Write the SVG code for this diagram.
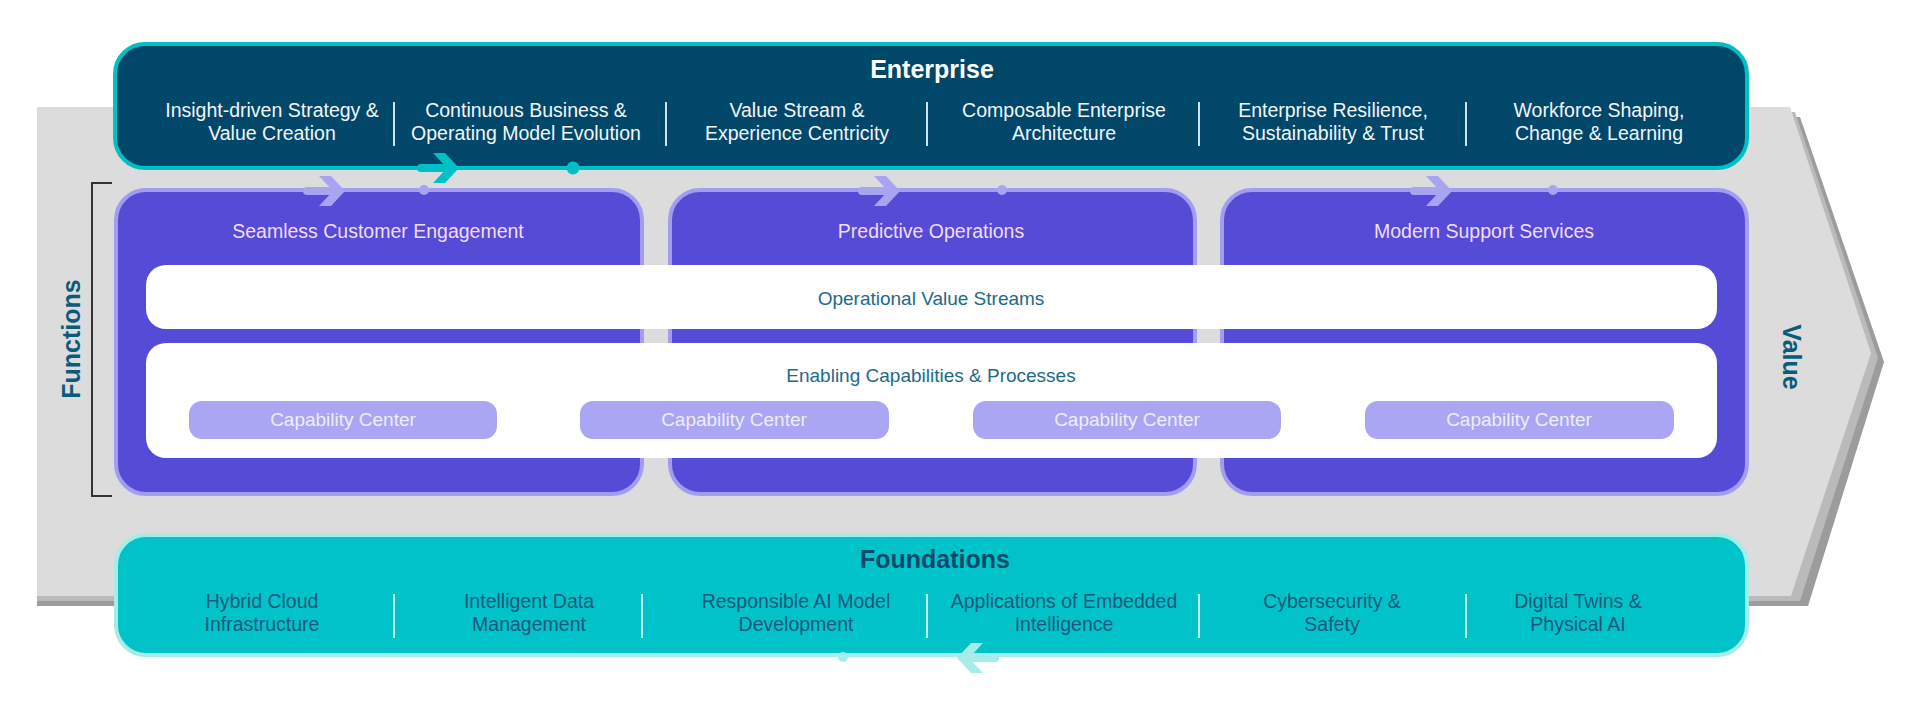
<svg xmlns="http://www.w3.org/2000/svg" xmlns:xlink="http://www.w3.org/1999/xlink" width="1920" height="717" viewBox="0 0 1920 717">
<style>
  text { font-family: "Liberation Sans", Arial, sans-serif; text-anchor: middle; }
  .etitle { font-size: 25px; font-weight: bold; fill: #ffffff; }
  .ftitle { font-size: 25px; font-weight: bold; fill: #0c4a6b; }
  .ecol { font-size: 19.5px; fill: #f2f6f8; }
  .fcol { font-size: 19.5px; fill: #17597c; }
  .esep { stroke: #cfe3ea; stroke-width: 2; }
  .fsep { stroke: #c8f2ef; stroke-width: 2; }
  .fbox { fill: #554bd6; stroke: #a39df2; stroke-width: 4; }
  .ftxt { font-size: 19.5px; fill: #f2dcff; }
  .band { fill: #ffffff; }
  .btxt { font-size: 19px; fill: #1d6a8c; }
  .pill { fill: #aaa6f3; }
  .ptxt { font-size: 19px; fill: #eeecff; }
  .side { font-size: 25px; font-weight: bold; fill: #0b5b7b; }
</style>
<defs>
  <g id="arrowR">
    <rect x="-42" y="-4" width="34" height="8" rx="4"/>
    <path d="M-26,-15 L-14,-15 L0,0 L-14,15 L-26,15 L-12,0 Z"/>
  </g>
</defs>

<g id="background">
  <polygon points="37,117 1800,117 1884,362 1808,606 37,606" fill="#9c9c9c"/>
  <polygon points="37,112 1795,112 1878,358 1800,601 37,601" fill="#bababa"/>
  <polygon points="37,107 1790,107 1871,353 1791,596 37,596" fill="#dcdcdc"/>
</g>

<g id="enterprise">
  <rect x="115" y="44" width="1632" height="124" rx="30" fill="#01476a" stroke="#00c0c6" stroke-width="4"/>
  <text class="etitle" x="932" y="78">Enterprise</text>
  <text class="ecol" x="272" y="117">Insight-driven Strategy &amp;</text>
  <text class="ecol" x="272" y="140">Value Creation</text>
  <text class="ecol" x="526" y="117">Continuous Business &amp;</text>
  <text class="ecol" x="526" y="140">Operating Model Evolution</text>
  <text class="ecol" x="797" y="117">Value Stream &amp;</text>
  <text class="ecol" x="797" y="140">Experience Centricity</text>
  <text class="ecol" x="1064" y="117">Composable Enterprise</text>
  <text class="ecol" x="1064" y="140">Architecture</text>
  <text class="ecol" x="1333" y="117">Enterprise Resilience,</text>
  <text class="ecol" x="1333" y="140">Sustainability &amp; Trust</text>
  <text class="ecol" x="1599" y="117">Workforce Shaping,</text>
  <text class="ecol" x="1599" y="140">Change &amp; Learning</text>
  <line class="esep" x1="394" y1="102" x2="394" y2="146"/>
  <line class="esep" x1="666" y1="102" x2="666" y2="146"/>
  <line class="esep" x1="927" y1="102" x2="927" y2="146"/>
  <line class="esep" x1="1199" y1="102" x2="1199" y2="146"/>
  <line class="esep" x1="1466" y1="102" x2="1466" y2="146"/>
</g>

<g id="functions-bracket">
  <path d="M112,183 H92 V496 H112" fill="none" stroke="#333333" stroke-width="2"/>
  <text class="side" transform="translate(80,339) rotate(-90)">Functions</text>
</g>

<g id="value-label">
  <text class="side" transform="translate(1783,357) rotate(90)">Value</text>
</g>

<g id="customer-engagement">
  <rect class="fbox" x="116" y="190" width="526" height="304" rx="30"/>
  <text class="ftxt" x="378" y="238">Seamless Customer Engagement</text>
</g>
<g id="predictive-operations">
  <rect class="fbox" x="670" y="190" width="525" height="304" rx="30"/>
  <text class="ftxt" x="931" y="238">Predictive Operations</text>
</g>
<g id="support-services">
  <rect class="fbox" x="1222" y="190" width="525" height="304" rx="30"/>
  <text class="ftxt" x="1484" y="238">Modern Support Services</text>
</g>

<g id="value-streams">
  <rect class="band" x="146" y="265" width="1571" height="64" rx="20"/>
  <text class="btxt" x="931" y="305">Operational Value Streams</text>
</g>

<g id="enabling-capabilities">
  <rect class="band" x="146" y="343" width="1571" height="115" rx="20"/>
  <text class="btxt" x="931" y="382">Enabling Capabilities &amp; Processes</text>
</g>

<g id="capability-center-1">
  <rect class="pill" x="189" y="401" width="308" height="38" rx="13"/>
  <text class="ptxt" x="343" y="426">Capability Center</text>
</g>
<g id="capability-center-2">
  <rect class="pill" x="580" y="401" width="309" height="38" rx="13"/>
  <text class="ptxt" x="734" y="426">Capability Center</text>
</g>
<g id="capability-center-3">
  <rect class="pill" x="973" y="401" width="308" height="38" rx="13"/>
  <text class="ptxt" x="1127" y="426">Capability Center</text>
</g>
<g id="capability-center-4">
  <rect class="pill" x="1365" y="401" width="309" height="38" rx="13"/>
  <text class="ptxt" x="1519" y="426">Capability Center</text>
</g>

<g id="foundations">
  <rect x="116" y="535" width="1631" height="120" rx="30" fill="#00c3c9" stroke="#a6ece8" stroke-width="4"/>
  <text class="ftitle" x="935" y="568">Foundations</text>
  <text class="fcol" x="262" y="608">Hybrid Cloud</text>
  <text class="fcol" x="262" y="631">Infrastructure</text>
  <text class="fcol" x="529" y="608">Intelligent Data</text>
  <text class="fcol" x="529" y="631">Management</text>
  <text class="fcol" x="796" y="608">Responsible AI Model</text>
  <text class="fcol" x="796" y="631">Development</text>
  <text class="fcol" x="1064" y="608">Applications of Embedded</text>
  <text class="fcol" x="1064" y="631">Intelligence</text>
  <text class="fcol" x="1332" y="608">Cybersecurity &amp;</text>
  <text class="fcol" x="1332" y="631">Safety</text>
  <text class="fcol" x="1578" y="608">Digital Twins &amp;</text>
  <text class="fcol" x="1578" y="631">Physical AI</text>
  <line class="fsep" x1="394" y1="594" x2="394" y2="638"/>
  <line class="fsep" x1="642" y1="594" x2="642" y2="638"/>
  <line class="fsep" x1="927" y1="594" x2="927" y2="638"/>
  <line class="fsep" x1="1199" y1="594" x2="1199" y2="638"/>
  <line class="fsep" x1="1466" y1="594" x2="1466" y2="638"/>
</g>

<g id="connectors">
  <use xlink:href="#arrowR" href="#arrowR" transform="translate(459,168)" fill="#00c0c6"/>
  <circle cx="573" cy="168" r="6.5" fill="#00c0c6"/>
  <use xlink:href="#arrowR" href="#arrowR" transform="translate(345,191)" fill="#a9a4f2"/>
  <circle cx="424" cy="190" r="5" fill="#a9a4f2"/>
  <use xlink:href="#arrowR" href="#arrowR" transform="translate(900,191)" fill="#a9a4f2"/>
  <circle cx="1002" cy="190" r="5" fill="#a9a4f2"/>
  <use xlink:href="#arrowR" href="#arrowR" transform="translate(1452,191)" fill="#a9a4f2"/>
  <circle cx="1553" cy="190" r="5" fill="#a9a4f2"/>
  <use xlink:href="#arrowR" href="#arrowR" transform="translate(957,658) scale(-1,1)" fill="#a6ece8"/>
  <circle cx="843" cy="657" r="5" fill="#a6ece8"/>
</g>
</svg>
